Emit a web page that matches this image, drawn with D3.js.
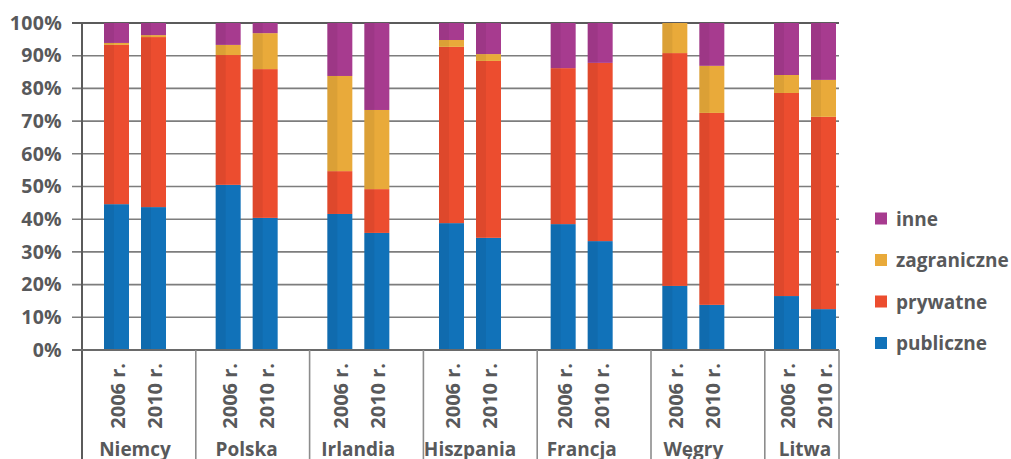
<!DOCTYPE html>
<html><head><meta charset="utf-8">
<script src="https://cdn.jsdelivr.net/npm/d3@7"></script>
<style>
html,body{margin:0;padding:0;background:#fff;}
text{font-family:"Open Sans",sans-serif;font-weight:700;fill:#58595b;}
</style></head>
<body>
<svg id="chart" width="1011" height="459"></svg>
<script>
const countries = ["Niemcy","Polska","Irlandia","Hiszpania","Francja","Węgry","Litwa"];
const years = ["2006 r.","2010 r."];
// values per country, [2006, 2010]
const publiczne   = [[44.6,43.7],[50.5,40.4],[41.6,35.8],[38.8,34.3],[38.5,33.3],[19.6,13.8],[16.5,12.5]];
const prywatne    = [[48.7,52.0],[39.7,45.5],[13.1,13.4],[53.9,54.1],[47.7,54.5],[71.2,58.7],[62.1,58.8]];
const zagraniczne = [[0.6,0.6],[3.1,11.0],[29.1,24.2],[2.1,2.1],[0,0],[9.2,14.4],[5.5,11.3]];
const inne        = [[6.1,3.7],[6.7,3.1],[16.2,26.6],[5.2,9.5],[13.8,12.2],[0,13.1],[15.9,17.4]];
const seriesNames = ["publiczne","prywatne","zagraniczne","inne"];
const yTicks = [0,10,20,30,40,50,60,70,80,90,100];

const colors = {publiczne:"#1172b9", prywatne:"#ec4d2f", zagraniczne:"#e9aa3a", inne:"#a73b8f"};
const seriesData = {publiczne, prywatne, zagraniczne, inne};

const rows = [];
countries.forEach((c,i)=>years.forEach((yr,j)=>{
  const r = {country:c, year:yr};
  seriesNames.forEach(s=>r[s]=seriesData[s][i][j]);
  rows.push(r);
}));

const svg = d3.select("#chart");
const mLeft = 82, mRight = 839, mTop = 23, mBottom = 350;
const step = 113.8;
// category cells (for the divider lines)
const xCat = d3.scaleBand().domain(countries).range([mLeft, mLeft + step*countries.length]).padding(0);
// bar-pair centres
const xPair = d3.scalePoint().domain(countries).range([135, 805]);
const x1 = d3.scaleBand().domain(years).range([-31, 31]).paddingInner(12/37).paddingOuter(0);
const y = d3.scaleLinear().domain([0,100]).range([mBottom, mTop]);

// gridlines
const grid = svg.append("g");
grid.selectAll("line").data(yTicks.filter(t=>t>0 && t<100)).join("line")
  .attr("x1", mLeft-10).attr("x2", mRight)
  .attr("y1", d=>y(d)).attr("y2", d=>y(d))
  .attr("stroke","#7d7d7d").attr("stroke-width",1.6);
grid.append("line").attr("x1",mLeft-10).attr("x2",mRight).attr("y1",y(100)).attr("y2",y(100))
  .attr("stroke","#5b5b5b").attr("stroke-width",2.2);

// bars
const stacked = d3.stack().keys(seriesNames)(rows);
const g = svg.append("g");
stacked.forEach(layer=>{
  const key = layer.key;
  layer.forEach(seg=>{
    const d = seg.data;
    const bx = xPair(d.country) + x1(d.year);
    const y0 = y(seg[0]), y1v = y(seg[1]);
    if (y0 - y1v <= 0) return;
    g.append("rect").attr("x", bx).attr("y", y1v).attr("width", x1.bandwidth()).attr("height", y0 - y1v)
      .attr("fill", colors[key]);
    g.append("rect").attr("x", bx).attr("y", y1v).attr("width", x1.bandwidth()*0.4).attr("height", y0 - y1v)
      .attr("fill", "#000").attr("opacity", 0.06);
  });
});

// y axis
const yAxis = d3.axisLeft(y).tickValues(yTicks).tickFormat(d=>d+"%").tickSize(0).tickPadding(20);
const ya = svg.append("g").attr("transform",`translate(${mLeft},0)`).call(yAxis);
ya.select(".domain").remove();
ya.selectAll("text").attr("font-size",19.5).attr("font-family","'Open Sans',sans-serif")
  .attr("fill","#58595b").attr("font-weight",700).attr("letter-spacing",0.3);
svg.append("line").attr("x1",mLeft).attr("x2",mLeft).attr("y1",mTop-1).attr("y2",459)
  .attr("stroke","#5b5b5b").attr("stroke-width",2);
svg.append("line").attr("x1",mLeft-10).attr("x2",mRight).attr("y1",mBottom).attr("y2",mBottom)
  .attr("stroke","#6a6a6a").attr("stroke-width",2);

// category dividers
const dividers = countries.slice(1).map(c=>xCat(c)).concat([mRight]);
svg.append("g").selectAll("line").data(dividers).join("line")
  .attr("x1",d=>d).attr("x2",d=>d).attr("y1",mBottom).attr("y2",459)
  .attr("stroke","#8c8c8c").attr("stroke-width",1.6);

// year labels
const xl = svg.append("g");
rows.forEach(d=>{
  const cx = xPair(d.country) + x1(d.year) + x1.bandwidth()/2;
  xl.append("text").attr("transform",`translate(${cx+1},363) rotate(-90)`)
    .attr("text-anchor","end").attr("dominant-baseline","central")
    .attr("font-size",20).text(d.year);
});
// country labels
countries.forEach(c=>{
  xl.append("text").attr("x",xPair(c)).attr("y",456).attr("text-anchor","middle")
    .attr("font-size",19).text(c);
});

// legend
const legendOrder = ["inne","zagraniczne","prywatne","publiczne"];
const lg = svg.append("g");
legendOrder.forEach((k,i)=>{
  const cy = 218.5 + i*41.5;
  lg.append("rect").attr("x",875).attr("y",cy-6).attr("width",12).attr("height",12).attr("fill",colors[k]);
  lg.append("text").attr("x",896).attr("y",cy).attr("dominant-baseline","central")
    .attr("font-size",19).text(k);
});
</script>
</body></html>
